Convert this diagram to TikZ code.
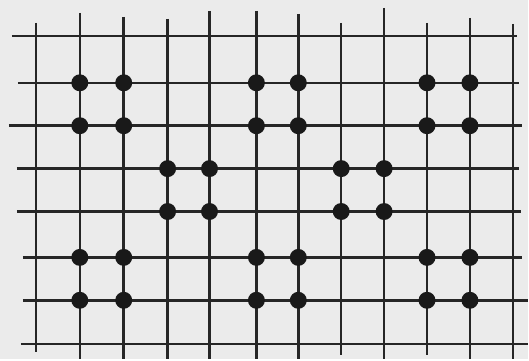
\documentclass[tikz,border=0pt]{standalone}
\usepackage{xcolor}
\usepackage{tikz}

\begin{document}
\begin{tikzpicture}[
  x=0.02cm, y=-0.02cm,
  paper/.style={fill=black!8},
  wire/.style={line width=1.4pt, draw=black!85},
  knot/.style={fill=black!90},
]

%% ---- sheet ---------------------------------------------------------------
\fill[paper] (0,0) rectangle (529,360);

%% ---- vertical wires (x / top / bottom) -----------------------------------
\foreach \x/\t/\b in {36/23/353, 80/13/360, 124/17/360, 168/19/360,
                      210/11/360, 257/11/360, 299/14/360, 342/23/356,
                      385/8/360, 428/23/356, 471/18/360, 514/24/360}
  \draw[wire] (\x,\t) -- (\x,\b);

%% ---- horizontal wires (y / left / right) ---------------------------------
\foreach \y/\l/\r in {36/12/518, 83/18/520, 126/9/523, 169/17/520,
                      212/17/522, 258/23/523, 301/23/529, 345/21/529}
  \draw[wire] (\l,\y) -- (\r,\y);

%% ---- outer blocks of knots -----------------------------------------------
\foreach \y in {83,126,258,301}
  \foreach \x in {80,124,257,299,428,471}
    \fill[knot] (\x,\y) circle (8.5);

%% ---- middle blocks of knots ----------------------------------------------
\foreach \y in {169,212}
  \foreach \x in {168,210,342,385}
    \fill[knot] (\x,\y) circle (8.5);

\end{tikzpicture}
\end{document}
